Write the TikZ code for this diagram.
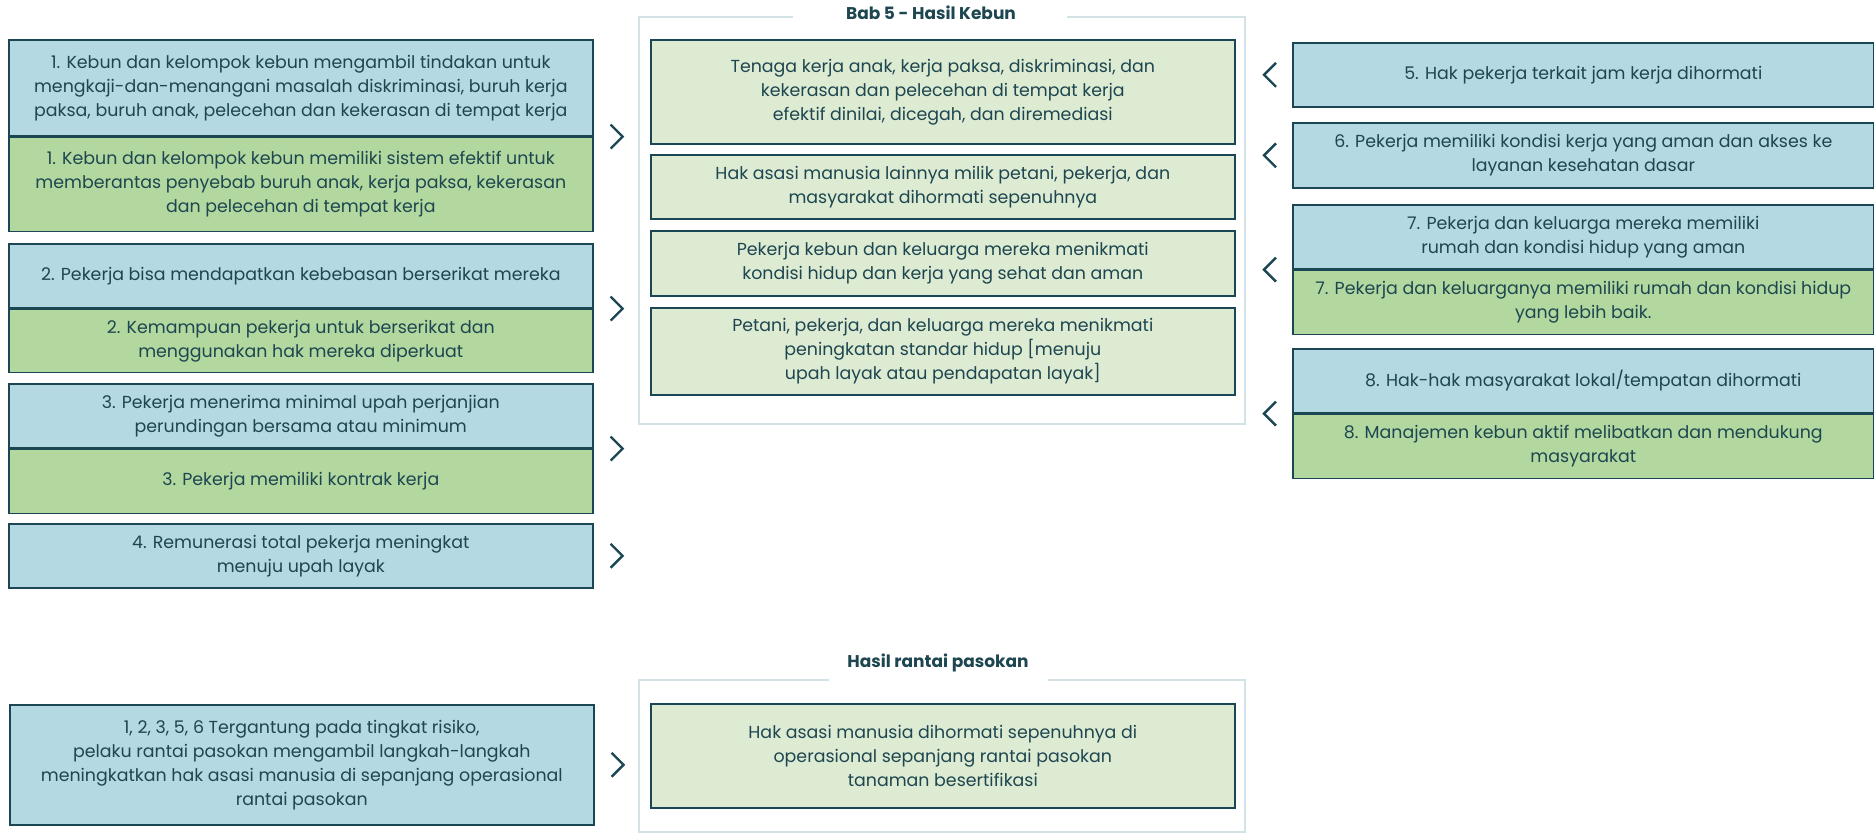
\documentclass[tikz,border=0pt]{standalone}
\usepackage{fontspec}
\setmainfont{Poppins}
\usetikzlibrary{positioning}

\definecolor{bluefill}{HTML}{B5D9E3}
\definecolor{greenfill}{HTML}{B2D8A0}
\definecolor{palegreen}{HTML}{DEEBD3}
\definecolor{edge}{HTML}{1A4753}
\definecolor{ink}{HTML}{1D4650}
\definecolor{framegray}{HTML}{D3E2E5}

\begin{document}
\begin{tikzpicture}[
    x=0.5pt, y=-0.5pt,
    every node/.style={font=\fontsize{8.7}{12}\selectfont, text=ink},
    box/.style={draw=edge, line width=0.8pt, align=center, inner sep=0pt, anchor=north west, minimum width=292pt},
    outbox/.style={box, fill=bluefill},
    resbox/.style={box, fill=greenfill},
    hasilbox/.style={box, fill=palegreen},
    frameline/.style={draw=framegray, line width=1pt},
    titletext/.style={font=\fontsize{8.5}{10}\selectfont\bfseries},
    chevline/.style={draw=edge, line width=1.2pt},
    chevR/.pic={\draw[chevline] (-6,-12) -- (6,0) -- (-6,12);},
    chevL/.pic={\draw[chevline] (6,-12) -- (-6,0) -- (6,12);},
]
\useasboundingbox (0,0) rectangle (1874,835);

% ---- Left: kebun outputs ----
\node[outbox, minimum height=48pt] (k1a) at (8,39) {1. Kebun dan kelompok kebun mengambil tindakan untuk\\mengkaji-dan-menangani masalah diskriminasi, buruh kerja\\paksa, buruh anak, pelecehan dan kekerasan di tempat kerja};
\node[resbox, minimum height=47pt, below=0pt of k1a] (k1b) {1. Kebun dan kelompok kebun memiliki sistem efektif untuk\\memberantas penyebab buruh anak, kerja paksa, kekerasan\\dan pelecehan di tempat kerja};

\node[outbox, minimum height=32pt] (k2a) at (8,243) {2. Pekerja bisa mendapatkan kebebasan berserikat mereka};
\node[resbox, minimum height=31.5pt, below=0pt of k2a] (k2b) {2. Kemampuan pekerja untuk berserikat dan\\menggunakan hak mereka diperkuat};

\node[outbox, minimum height=32pt] (k3a) at (8,383) {3. Pekerja menerima minimal upah perjanjian\\perundingan bersama atau minimum};
\node[resbox, minimum height=32pt, below=0pt of k3a] (k3b) {3. Pekerja memiliki kontrak kerja};

\node[outbox, minimum height=32pt] (k4) at (8,523) {4. Remunerasi total pekerja meningkat\\menuju upah layak};

\pic at ([xshift=11.5pt]k1a.south east) {chevR};
\pic at ([xshift=11.5pt]k2a.south east) {chevR};
\pic at ([xshift=11.5pt]k3a.south east) {chevR};
\pic at ([xshift=11.5pt]k4.east) {chevR};

% ---- Middle: Bab 5 - Hasil Kebun ----
\node[titletext] (bab5) at (931,13) {Bab 5 - Hasil Kebun};
\coordinate (fTL) at (639,17);
\coordinate (fBR) at (1245,424);
\coordinate (gL) at (793,17);
\coordinate (gR) at (1067,17);
\draw[frameline] (gR) -| (fBR) -| (fTL) -- (gL);

\node[hasilbox, minimum height=52pt] (h1) at (650,39) {Tenaga kerja anak, kerja paksa, diskriminasi, dan\\kekerasan dan pelecehan di tempat kerja\\efektif dinilai, dicegah, dan diremediasi};
\node[hasilbox, minimum height=32pt] (h2) at (650,154) {Hak asasi manusia lainnya milik petani, pekerja, dan\\masyarakat dihormati sepenuhnya};
\node[hasilbox, minimum height=32.5pt] (h3) at (650,230) {Pekerja kebun dan keluarga mereka menikmati\\kondisi hidup dan kerja yang sehat dan aman};
\node[hasilbox, minimum height=43.5pt] (h4) at (650,307) {Petani, pekerja, dan keluarga mereka menikmati\\peningkatan standar hidup [menuju\\upah layak atau pendapatan layak]};

% ---- Right: kebun outputs ----
\node[outbox, minimum width=290.5pt, minimum height=32pt] (r5) at (1292,42) {5. Hak pekerja terkait jam kerja dihormati};
\node[outbox, minimum width=290.5pt, minimum height=32.5pt] (r6) at (1292,122) {6. Pekerja memiliki kondisi kerja yang aman dan akses ke\\layanan kesehatan dasar};
\node[outbox, minimum width=290.5pt, minimum height=32pt] (r7a) at (1292,204) {7. Pekerja dan keluarga mereka memiliki\\rumah dan kondisi hidup yang aman};
\node[resbox, minimum width=290.5pt, minimum height=32pt, below=0pt of r7a] (r7b) {7. Pekerja dan keluarganya memiliki rumah dan kondisi hidup\\yang lebih baik.};
\node[outbox, minimum width=290.5pt, minimum height=32pt] (r8a) at (1292,348) {8. Hak-hak masyarakat lokal/tempatan dihormati};
\node[resbox, minimum width=290.5pt, minimum height=32pt, below=0pt of r8a] (r8b) {8. Manajemen kebun aktif melibatkan dan mendukung\\masyarakat};

\pic at ([xshift=-11pt]r5.west) {chevL};
\pic at ([xshift=-11pt]r6.west) {chevL};
\pic at ([xshift=-11pt]r7a.south west) {chevL};
\pic at ([xshift=-11pt]r8a.south west) {chevL};

% ---- Bottom: rantai pasokan ----
\node[outbox, minimum height=60pt] (rp) at (9,704) {1, 2, 3, 5, 6 Tergantung pada tingkat risiko,\\pelaku rantai pasokan mengambil langkah-langkah\\meningkatkan hak asasi manusia di sepanjang operasional\\rantai pasokan};
\pic at ([xshift=11.5pt]rp.east) {chevR};

\node[titletext] (hrp) at (938,663) {Hasil rantai pasokan};
\coordinate (pTL) at (639,680);
\coordinate (pBR) at (1245,832);
\coordinate (pL) at (829,680);
\coordinate (pR) at (1048,680);
\draw[frameline] (pR) -| (pBR) -| (pTL) -- (pL);

\node[hasilbox, minimum height=52pt] (hp) at (650,703) {Hak asasi manusia dihormati sepenuhnya di\\operasional sepanjang rantai pasokan\\tanaman besertifikasi};

\end{tikzpicture}
\end{document}
